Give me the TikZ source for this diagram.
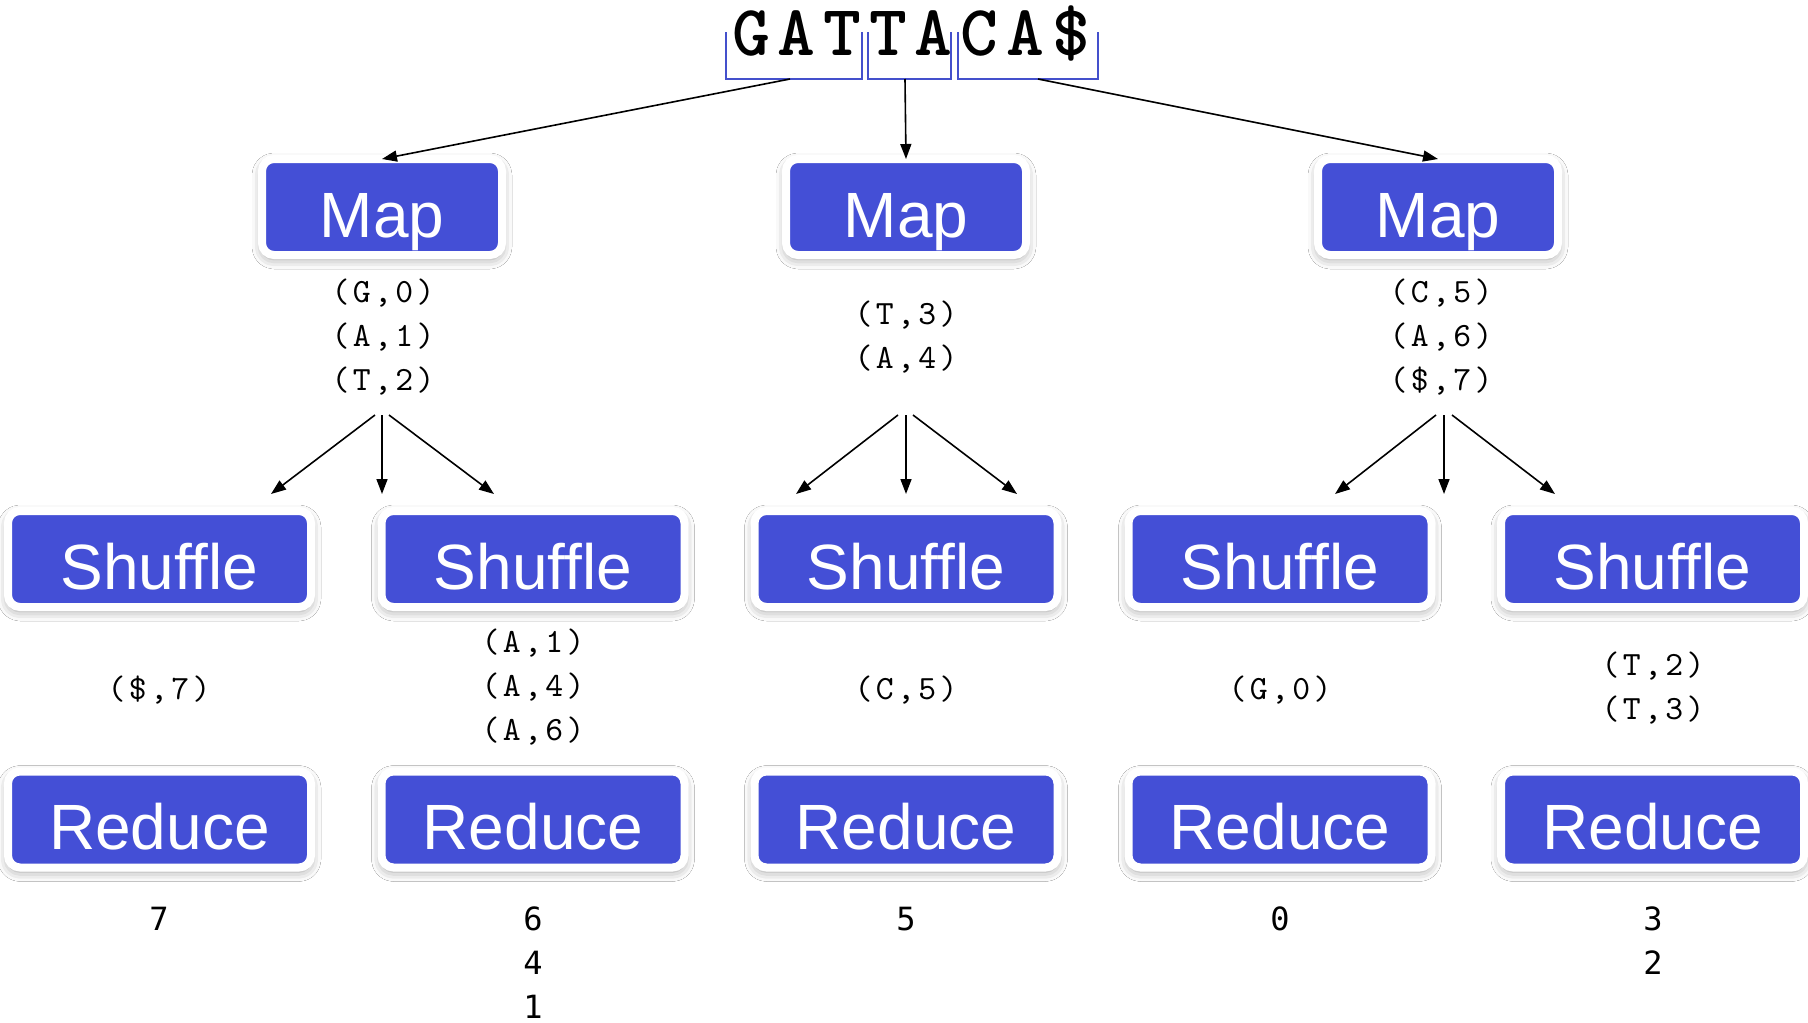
\documentclass[tikz,border=0pt]{standalone}
\usepackage{fontspec}
\newfontfamily\boxfont{Liberation Sans}
\newfontfamily\tupfont{lmmono10-regular.otf}[LetterSpace=10]
\newfontfamily\seqfont{lmmonolt10-bold.otf}[LetterSpace=11]
\newfontfamily\numfont{DejaVu Sans Mono}
\usetikzlibrary{arrows.meta,shadows.blur}
\definecolor{boxblue}{RGB}{68,79,214}
\definecolor{brblue}{RGB}{68,80,204}
\begin{document}
\begin{tikzpicture}[x=1pt,y=-1pt,
  blk/.style={fill=boxblue, draw=white, line width=8pt, rounded corners=12pt, text=white,
    inner sep=0pt, outer sep=0pt, font=\boxfont\fontsize{64}{64}\selectfont, text height=70pt, text depth=10pt,
    minimum height=96pt,
    blur shadow={shadow xshift=0pt, shadow yshift=-4pt, shadow blur radius=10pt, shadow opacity=40}},
  mapbox/.style={blk, minimum width=240pt},
  opbox/.style={blk, minimum width=303pt},
  tup/.style={font=\tupfont\fontsize{34}{44}\selectfont, align=center, inner sep=0pt},
  outnum/.style={font=\numfont\fontsize{32}{44}\selectfont, align=center, inner sep=0pt},
  arr/.style={line width=1.6pt, -{Triangle[length=15pt,width=11pt]}},
  bracket/.style={draw=brblue, line width=2pt},
]
\fill[white] (0,0) rectangle (1808,1023);
\useasboundingbox (0,0) rectangle (1808,1023);

% input string and brackets
\node[font=\seqfont\fontsize{72}{72}\selectfont, anchor=base, inner sep=0pt] (seq) at (911,55) {GATTACA\$};
\draw[bracket] (726,32) -- (726,79) -- (862,79) -- (862,32);
\draw[bracket] (868,32) -- (868,79) -- (951,79) -- (951,32);
\draw[bracket] (958,32) -- (958,79) -- (1098,79) -- (1098,32);
\coordinate (b1) at (790,79);
\coordinate (b2) at (905,79);
\coordinate (b3) at (1038,79);

% map boxes
\node[mapbox] (map1) at (382,207) {Map};
\node[mapbox] (map2) at (906,207) {Map};
\node[mapbox] (map3) at (1438,207) {Map};

\draw[arr] (b1) -- (map1.north);
\draw[arr] (b2) -- (map2.north);
\draw[arr] (b3) -- (map3.north);

% map outputs
\node[tup] (m1out) at (383,337) {(G,0)\\(A,1)\\(T,2)};
\node[tup] (m2out) at (906,337) {(T,3)\\(A,4)};
\node[tup] (m3out) at (1441,337) {(C,5)\\(A,6)\\(\$,7)};

% fan-out arrows
\coordinate (f1l) at (375,415); \coordinate (f1m) at (382,415); \coordinate (f1r) at (389,415);
\coordinate (t1l) at (271,494); \coordinate (t1m) at (382,494); \coordinate (t1r) at (494,494);
\coordinate (f2l) at (898,415); \coordinate (f2m) at (906,415); \coordinate (f2r) at (913,415);
\coordinate (t2l) at (796,494); \coordinate (t2m) at (906,494); \coordinate (t2r) at (1017,494);
\coordinate (f3l) at (1436,415); \coordinate (f3m) at (1444,415); \coordinate (f3r) at (1452,415);
\coordinate (t3l) at (1335,494); \coordinate (t3m) at (1444,494); \coordinate (t3r) at (1555,494);
\foreach \g in {1,2,3}{
  \draw[arr] (f\g l) -- (t\g l);
  \draw[arr] (f\g m) -- (t\g m);
  \draw[arr] (f\g r) -- (t\g r);
}

% shuffle boxes
\node[opbox] (sh1) at (159.5,559) {Shuffle};
\node[opbox] (sh2) at (533,559) {Shuffle};
\node[opbox] (sh3) at (906,559) {Shuffle};
\node[opbox] (sh4) at (1280,559) {Shuffle};
\node[opbox] (sh5) at (1652.5,559) {Shuffle};

% shuffle outputs
\node[tup] (s1out) at (159,690) {(\$,7)};
\node[tup] (s2out) at (533,687) {(A,1)\\(A,4)\\(A,6)};
\node[tup] (s3out) at (906,690) {(C,5)};
\node[tup] (s4out) at (1280,690) {(G,0)};
\node[tup] (s5out) at (1653,688) {(T,2)\\(T,3)};

% reduce boxes
\node[opbox] (rd1) at (159.5,819.5) {Reduce};
\node[opbox] (rd2) at (533,819.5) {Reduce};
\node[opbox] (rd3) at (906,819.5) {Reduce};
\node[opbox] (rd4) at (1280,819.5) {Reduce};
\node[opbox] (rd5) at (1652.5,819.5) {Reduce};

% reduce outputs
\node[outnum] (r1out) at (159,919) {7};
\node[outnum] (r2out) at (533,963) {6\\4\\1};
\node[outnum] (r3out) at (906,919) {5};
\node[outnum] (r4out) at (1280,919) {0};
\node[outnum] (r5out) at (1653,941) {3\\2};
\end{tikzpicture}
\end{document}
